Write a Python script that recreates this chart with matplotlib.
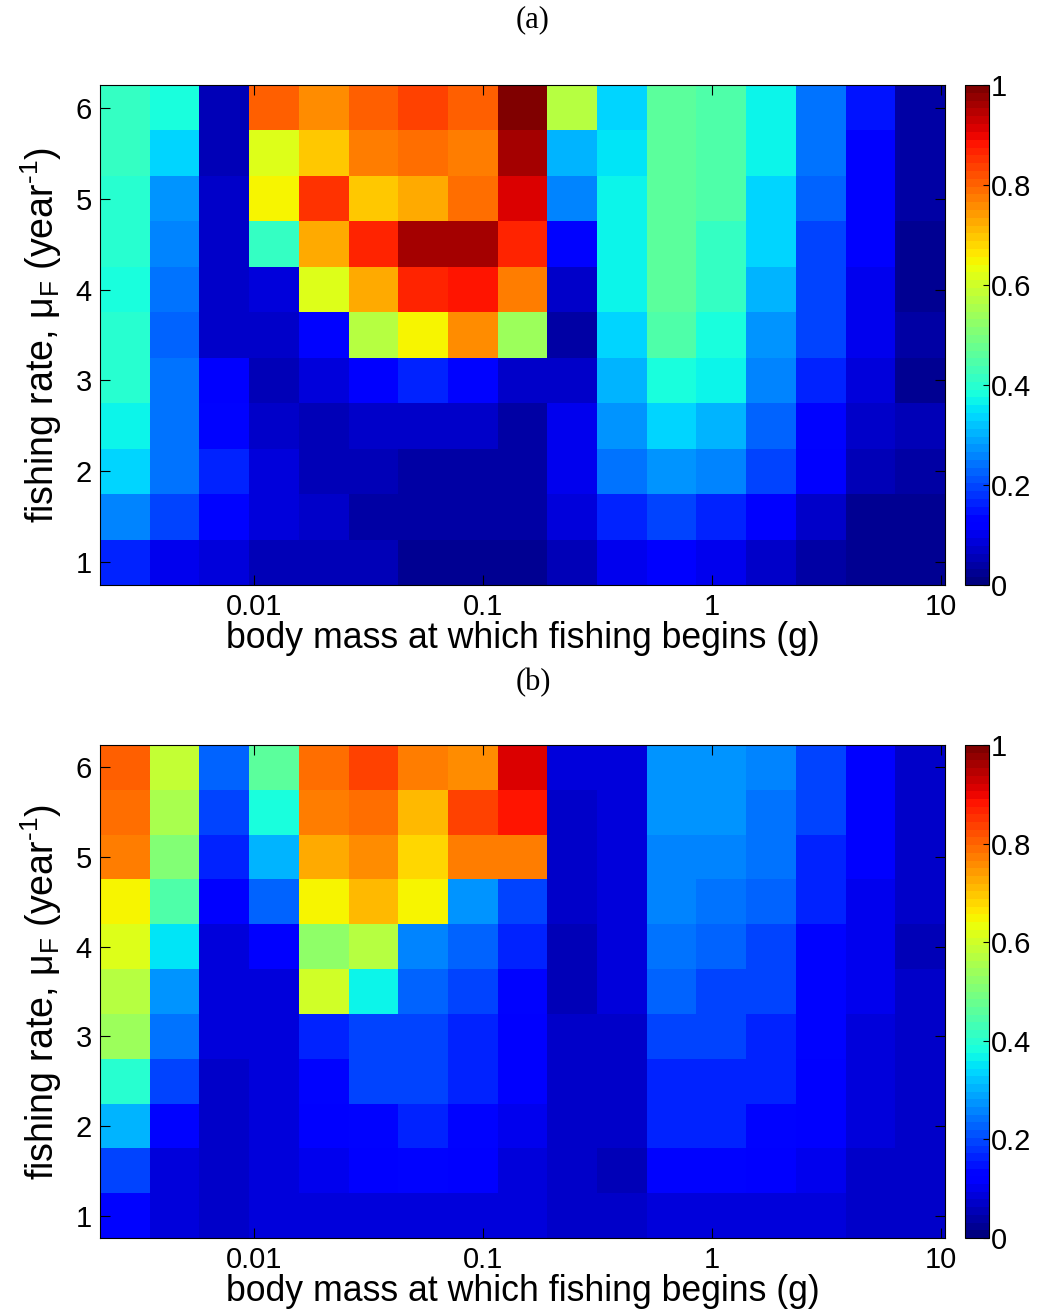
import numpy as np
import matplotlib
matplotlib.use("Agg")
import matplotlib.pyplot as plt

plt.rcParams['font.family'] = ['Liberation Sans', 'DejaVu Sans']
plt.rcParams['mathtext.fontset'] = 'custom'
plt.rcParams['mathtext.rm'] = 'Liberation Sans'
plt.rcParams['mathtext.it'] = 'Liberation Sans'
plt.rcParams['mathtext.default'] = 'regular'

# body mass at which fishing begins (g), bin centres
masa = [0.00273, 0.00450, 0.00742, 0.01223, 0.0202, 0.0332, 0.0548, 0.0904,
        0.149, 0.2455, 0.405, 0.668, 1.10, 1.815, 2.99, 4.93, 8.13]
# fishing rate (1/year), rows from top to bottom
tasa = [6.0, 5.5, 5.0, 4.5, 4.0, 3.5, 3.0, 2.5, 2.0, 1.5, 1.0]

# panel (a), rows top -> bottom
valores_a = [
    [0.42, 0.38, 0.05, 0.81, 0.76, 0.81, 0.84, 0.80, 1.00, 0.57, 0.34, 0.46, 0.44, 0.37, 0.24, 0.15, 0.04],
    [0.42, 0.33, 0.05, 0.62, 0.70, 0.78, 0.79, 0.77, 0.965, 0.31, 0.35, 0.46, 0.44, 0.37, 0.24, 0.11, 0.04],
    [0.40, 0.275, 0.07, 0.65, 0.85, 0.70, 0.73, 0.79, 0.92, 0.26, 0.37, 0.46, 0.44, 0.34, 0.22, 0.11, 0.04],
    [0.40, 0.25, 0.07, 0.42, 0.73, 0.87, 0.965, 0.965, 0.87, 0.13, 0.36, 0.46, 0.42, 0.33, 0.20, 0.11, 0.03],
    [0.38, 0.24, 0.07, 0.09, 0.62, 0.72, 0.87, 0.88, 0.78, 0.07, 0.36, 0.46, 0.42, 0.31, 0.20, 0.10, 0.03],
    [0.40, 0.225, 0.07, 0.07, 0.13, 0.57, 0.65, 0.76, 0.54, 0.04, 0.33, 0.44, 0.38, 0.28, 0.19, 0.10, 0.04],
    [0.40, 0.24, 0.11, 0.05, 0.08, 0.11, 0.16, 0.14, 0.07, 0.07, 0.31, 0.38, 0.36, 0.25, 0.17, 0.09, 0.03],
    [0.37, 0.24, 0.13, 0.07, 0.05, 0.07, 0.07, 0.07, 0.04, 0.10, 0.28, 0.34, 0.30, 0.225, 0.13, 0.07, 0.06],
    [0.33, 0.24, 0.16, 0.08, 0.05, 0.05, 0.035, 0.035, 0.035, 0.10, 0.24, 0.28, 0.25, 0.19, 0.11, 0.05, 0.04],
    [0.26, 0.19, 0.13, 0.09, 0.07, 0.04, 0.04, 0.04, 0.04, 0.08, 0.17, 0.20, 0.17, 0.11, 0.07, 0.03, 0.02],
    [0.16, 0.10, 0.08, 0.06, 0.05, 0.05, 0.02, 0.02, 0.03, 0.05, 0.10, 0.11, 0.10, 0.07, 0.04, 0.02, 0.03],
]

# panel (b), rows top -> bottom
valores_b = [
    [0.80, 0.59, 0.225, 0.46, 0.79, 0.83, 0.77, 0.76, 0.92, 0.08, 0.08, 0.28, 0.28, 0.25, 0.19, 0.11, 0.07],
    [0.79, 0.56, 0.19, 0.38, 0.77, 0.79, 0.71, 0.84, 0.88, 0.07, 0.08, 0.27, 0.27, 0.24, 0.19, 0.11, 0.07],
    [0.78, 0.50, 0.16, 0.30, 0.73, 0.76, 0.68, 0.77, 0.77, 0.07, 0.08, 0.25, 0.25, 0.24, 0.16, 0.11, 0.07],
    [0.65, 0.44, 0.11, 0.22, 0.65, 0.71, 0.65, 0.28, 0.19, 0.07, 0.08, 0.25, 0.24, 0.22, 0.17, 0.10, 0.07],
    [0.62, 0.35, 0.09, 0.11, 0.52, 0.57, 0.25, 0.22, 0.16, 0.05, 0.08, 0.24, 0.22, 0.20, 0.14, 0.10, 0.06],
    [0.57, 0.28, 0.09, 0.09, 0.60, 0.37, 0.22, 0.19, 0.14, 0.05, 0.08, 0.22, 0.20, 0.19, 0.14, 0.10, 0.07],
    [0.54, 0.24, 0.08, 0.08, 0.17, 0.19, 0.19, 0.17, 0.11, 0.07, 0.07, 0.20, 0.19, 0.17, 0.14, 0.08, 0.07],
    [0.40, 0.20, 0.07, 0.08, 0.14, 0.19, 0.19, 0.17, 0.11, 0.07, 0.07, 0.17, 0.17, 0.16, 0.11, 0.08, 0.07],
    [0.30, 0.14, 0.07, 0.08, 0.11, 0.13, 0.16, 0.14, 0.10, 0.07, 0.07, 0.16, 0.16, 0.13, 0.11, 0.08, 0.07],
    [0.20, 0.09, 0.07, 0.08, 0.10, 0.11, 0.13, 0.11, 0.08, 0.07, 0.06, 0.13, 0.13, 0.11, 0.10, 0.07, 0.07],
    [0.13, 0.08, 0.07, 0.08, 0.08, 0.08, 0.08, 0.08, 0.08, 0.07, 0.07, 0.08, 0.08, 0.08, 0.08, 0.07, 0.07],
]


def bordes_log(c):
    lc = np.log10(c)
    mid = (lc[1:] + lc[:-1]) / 2
    b = np.concatenate([[lc[0] - (lc[1] - lc[0]) / 2], mid, [lc[-1] + (lc[-1] - lc[-2]) / 2]])
    return 10 ** b


def bordes_lin(c):
    c = np.asarray(c)
    mid = (c[1:] + c[:-1]) / 2
    return np.concatenate([[c[0] - (c[1] - c[0]) / 2], mid, [c[-1] + (c[-1] - c[-2]) / 2]])


xb = bordes_log(masa)
yr = np.array(tasa)[::-1]
yb = bordes_lin(yr)

cmap = plt.get_cmap('jet', 64)
W, H = 1044, 1313
fig = plt.figure(figsize=(W / 100, H / 100), dpi=100)

paneles = [
    (valores_a, 85, 585, '(a)', 20),
    (valores_b, 745, 1238, '(b)', 683),
]

for vals, top, bot, titulo, ty in paneles:
    ax = fig.add_axes([100 / W, 1 - bot / H, 845 / W, (bot - top) / H])
    z = np.flipud(np.array(vals))
    mesh = ax.pcolormesh(xb, yb, z, cmap=cmap, vmin=0, vmax=1, shading='flat')
    ax.set_xscale('log')
    ax.set_xlim(xb[0], xb[-1])
    ax.set_ylim(yb[0], yb[-1])
    ax.set_xticks([0.01, 0.1, 1, 10])
    ax.set_xticklabels(['0.01', '0.1', '1', '10'])
    ax.xaxis.set_minor_locator(matplotlib.ticker.NullLocator())
    ax.set_yticks([1, 2, 3, 4, 5, 6])
    ax.tick_params(direction='in', top=True, right=True, length=7, width=0.8,
                   labelsize=21, pad=6)
    ax.set_xlabel('body mass at which fishing begins (g)', fontsize=25.7, labelpad=0)
    ax.set_ylabel('fishing rate, $\\mu_{F}$ (year$^{\u2010 1}$)', fontsize=27, labelpad=8)

    cax = fig.add_axes([965 / W, 1 - bot / H, 24 / W, (bot - top) / H])
    cb = fig.colorbar(mesh, cax=cax, ticks=[0, 0.2, 0.4, 0.6, 0.8, 1])
    cb.ax.set_yticklabels(['0', '0.2', '0.4', '0.6', '0.8', '1'])
    cb.ax.tick_params(direction='in', length=4, width=0.8, labelsize=21, pad=1)
    cb.outline.set_linewidth(0.8)

    fig.text(533 / W, 1 - ty / H, titulo, ha='center', va='center',
             family='Liberation Serif', fontsize=22)

fig.savefig('out.png', dpi=100)
